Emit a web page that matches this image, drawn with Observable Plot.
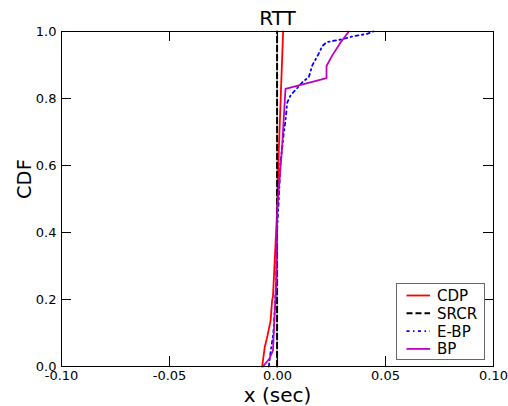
<!DOCTYPE html>
<html><head><meta charset="utf-8">
<script src="https://cdn.jsdelivr.net/npm/d3@7"></script>
<script src="https://cdn.jsdelivr.net/npm/@observablehq/plot@0.6"></script>
<style>
body{margin:0;background:#fff;font-family:"DejaVu Sans",sans-serif}
#wrap{position:relative;width:508px;height:406px;overflow:hidden}
#legend{position:absolute;left:396px;top:283px}
</style></head><body><div id="wrap"></div>
<script>
const xTicks = [-0.1, -0.05, 0, 0.05, 0.1];
const yTicks = [0, 0.2, 0.4, 0.6, 0.8, 1.0];
const seriesNames = ["CDP", "SRCR", "E-BP", "BP"];
const seriesColors = ["#ff0000", "#000000", "#0000ff", "#bf00bf"];
const seriesDash = [null, "6,3", "3,3.5,1.5,3.5", null];

const cdpX = [-0.0071, -0.0059, -0.0048, -0.0032, -0.0025, -0.0021, -0.0009, -0.0001, 0.0006, 0.0026];
const cdpY = [0, 0.058, 0.087, 0.137, 0.197, 0.209, 0.367, 0.475, 0.645, 1.0];

const srcrX = [-0.0002, -0.0002];
const srcrY = [0, 1.0];

const ebpX = [-0.0040, -0.0032, -0.0019, -0.0006, -0.0002, 0.0006, 0.0014, 0.0029, 0.0037, 0.0045, 0.0060, 0.0119, 0.0145, 0.0161, 0.0191, 0.0207, 0.0227, 0.0292, 0.0352, 0.0415, 0.0444];
const ebpY = [0, 0.043, 0.1, 0.248, 0.406, 0.5, 0.61, 0.696, 0.734, 0.788, 0.809, 0.851, 0.864, 0.899, 0.934, 0.956, 0.968, 0.976, 0.986, 0.993, 1.0];

const bpX = [-0.0067, -0.0037, -0.0021, -0.0013, -0.0006, -0.0001, 0.0021, 0.0037, 0.0227, 0.0227, 0.0253, 0.0292, 0.0330];
const bpY = [0, 0.024, 0.048, 0.158, 0.257, 0.475, 0.651, 0.829, 0.861, 0.897, 0.928, 0.967, 1.0];

const seriesXs = [cdpX, srcrX, ebpX, bpX];
const seriesYs = [cdpY, srcrY, ebpY, bpY];

const lineMarks = seriesNames.map((name, i) => {
  const data = seriesXs[i].map((x, j) => ({x, y: seriesYs[i][j]}));
  return Plot.line(data, {x: "x", y: "y", stroke: seriesColors[i], strokeWidth: i === 1 ? 2 : 1.8, strokeDasharray: seriesDash[i] ?? undefined, curve: "linear"});
});

const W = 508, H = 406, ML = 61, MR = 15, MT = 31, MB = 40;
const fw = W - ML - MR, fh = H - MT - MB, tl = 10;

const chart = Plot.plot({
  width: W, height: H,
  marginLeft: ML, marginRight: MR, marginTop: MT, marginBottom: MB,
  style: {fontFamily: "DejaVu Sans", fontSize: "13px", background: "white", color: "black"},
  x: {domain: [-0.1, 0.1]},
  y: {domain: [0, 1]},
  marks: [
    ...lineMarks,
    Plot.frame({stroke: "black", strokeWidth: 1}),
    Plot.tickY(yTicks, {y: d => d, insetRight: fw - tl, stroke: "black"}),
    Plot.tickY(yTicks, {y: d => d, insetLeft: fw - tl, stroke: "black"}),
    Plot.tickX(xTicks, {x: d => d, insetTop: fh - tl, stroke: "black"}),
    Plot.tickX(xTicks, {x: d => d, insetBottom: fh - tl, stroke: "black"}),
    Plot.axisX(xTicks, {tickSize: 0, tickPadding: 4, tickFormat: d => d.toFixed(2), fontSize: 13, label: null}),
    Plot.axisY(yTicks, {tickSize: 0, tickPadding: 5, tickFormat: d => d.toFixed(1), fontSize: 13, label: null}),
    Plot.text(["RTT"], {text: d => d, frameAnchor: "top", lineAnchor: "middle", dy: -13, fontSize: 20}),
    Plot.text(["CDF"], {text: d => d, frameAnchor: "left", lineAnchor: "middle", dx: -37, rotate: -90, fontSize: 19.5}),
    Plot.text(["x (sec)"], {text: d => d, frameAnchor: "bottom", lineAnchor: "middle", dy: 29, fontSize: 20})
  ]
});
const wrap = document.getElementById("wrap");
wrap.appendChild(chart);

// legend
const ns = "http://www.w3.org/2000/svg";
const lg = document.createElementNS(ns, "svg");
lg.setAttribute("id", "legend");
lg.setAttribute("width", 89);
lg.setAttribute("height", 77);
lg.setAttribute("font-family", "DejaVu Sans");
const box = document.createElementNS(ns, "rect");
box.setAttribute("x", 0.5); box.setAttribute("y", 0.5);
box.setAttribute("width", 88); box.setAttribute("height", 76);
box.setAttribute("fill", "white"); box.setAttribute("stroke", "#666");
lg.appendChild(box);
seriesNames.forEach((name, i) => {
  const cy = 12.5 + i * 17.8;
  const ln = document.createElementNS(ns, "line");
  ln.setAttribute("x1", 10.5); ln.setAttribute("x2", 34);
  ln.setAttribute("y1", cy); ln.setAttribute("y2", cy);
  ln.setAttribute("stroke", seriesColors[i]);
  ln.setAttribute("stroke-width", i === 1 ? 2 : 1.8);
  if (seriesDash[i]) ln.setAttribute("stroke-dasharray", seriesDash[i]);
  lg.appendChild(ln);
  const t = document.createElementNS(ns, "text");
  t.setAttribute("x", 41); t.setAttribute("y", cy);
  t.setAttribute("dy", "0.36em");
  t.setAttribute("font-size", 15);
  t.textContent = name;
  lg.appendChild(t);
});
wrap.appendChild(lg);
</script>
</body></html>
